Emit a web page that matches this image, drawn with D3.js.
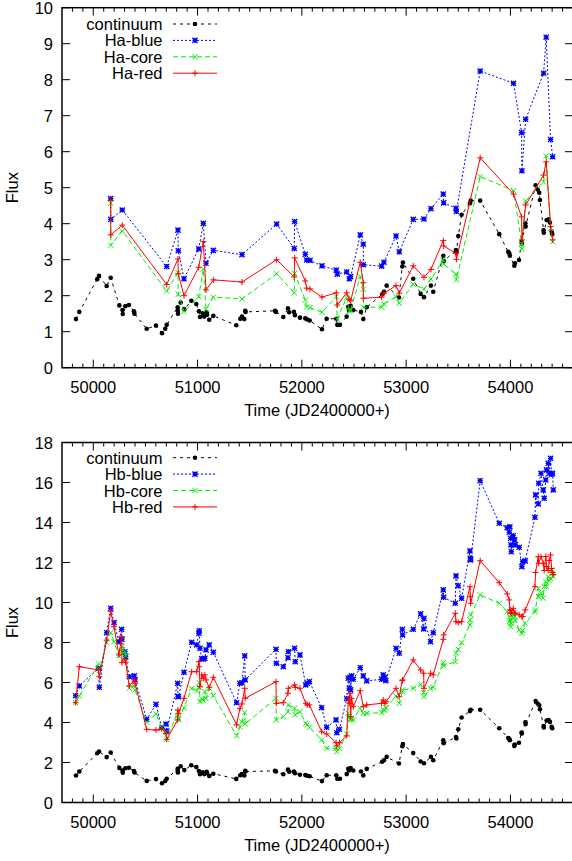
<!DOCTYPE html>
<html><head><meta charset="utf-8">
<script src="https://cdnjs.cloudflare.com/ajax/libs/d3/7.8.5/d3.min.js"></script>
<style>
html,body{margin:0;padding:0;background:#fff;}
svg text{font-family:"Liberation Sans",Arial,Helvetica,sans-serif;}
</style></head>
<body>
<svg id="chart" width="572" height="861"></svg>
<script>
// ---------- DATA ----------
const xTicks = [50000, 51000, 52000, 53000, 54000];
const haYTicks = [0,1,2,3,4,5,6,7,8,9,10];
const hbYTicks = [0,2,4,6,8,10,12,14,16,18];
const haNames = ["continuum","Ha-blue","Ha-core","Ha-red"];
const hbNames = ["continuum","Hb-blue","Hb-core","Hb-red"];

const contJD = [49834,49866,50038,50055,50128,50167,50250,50280,50283,50307,50342,50390,50395,50512,50601,50659,50690,50704,50809,50810,50812,50838,50873,50940,50988,51013,51023,51049,51064,51087,51090,51112,51151,51371,51410,51426,51448,51457,51460,51742,51752,51822,51867,51879,51924,51934,51982,52033,52052,52075,52193,52238,52330,52340,52365,52430,52445,52452,52468,52493,52567,52589,52622,52771,52787,52813,52931,52963,52969,53068,53139,53171,53238,53260,53356,53360,53478,53482,53500,53532,53612,53619,53710,53893,53979,53989,53995,54037,54043,54082,54107,54110,54143,54146,54242,54261,54276,54283,54318,54320,54347,54366,54379,54395,54401];
const contFlux = [1.35,1.55,2.46,2.55,2.27,2.50,1.73,1.60,1.49,1.71,1.74,1.57,1.50,1.08,1.17,0.96,1.08,1.19,1.68,1.58,1.50,1.81,1.62,1.86,1.77,1.57,1.41,1.51,1.42,1.54,1.47,1.33,1.44,1.18,1.36,1.42,1.35,1.58,1.55,1.58,1.55,1.41,1.65,1.54,1.55,1.46,1.39,1.37,1.34,1.31,1.07,1.36,1.36,1.19,1.19,1.42,1.69,1.60,1.72,1.60,1.55,1.35,1.68,2.04,2.11,2.28,1.95,2.81,2.92,2.47,2.05,1.96,2.28,2.11,3.11,2.96,3.27,3.20,3.66,4.25,4.57,4.64,4.64,3.71,3.22,3.18,3.11,2.83,2.90,2.99,3.50,3.45,4.01,3.92,5.07,4.95,4.86,4.66,3.82,3.75,4.10,4.12,4.03,3.78,3.71];

const haJD   = [50167,50168,50278,50704,50812,50815,50870,51011,51055,51081,51151,51426,51758,51927,51931,52033,52046,52078,52193,52330,52340,52430,52455,52468,52560,52589,52590,52765,52787,52903,52934,53068,53171,53238,53356,53360,53478,53482,53710,54030,54107,54110,54146,54318,54343,54385,54405];
const haBlue = [4.70,4.12,4.38,2.81,3.82,3.25,2.47,3.30,4.01,2.90,3.26,3.14,3.99,3.31,4.06,3.15,2.99,2.98,2.83,2.71,2.60,2.66,2.47,2.53,3.69,3.43,2.86,2.82,2.93,3.66,3.22,4.12,4.13,4.42,4.82,4.58,4.43,4.34,8.24,7.90,6.53,5.47,6.90,8.18,9.18,6.34,5.86];
const haCore = [4.57,3.40,3.80,2.13,2.64,2.04,1.56,1.97,2.74,1.62,1.96,1.91,2.61,2.08,2.62,1.88,1.69,1.67,1.54,1.97,1.35,1.95,1.58,1.60,2.53,2.18,1.68,1.68,1.77,1.97,1.79,2.32,2.18,2.46,2.99,2.88,2.60,2.44,5.31,4.92,3.45,3.30,4.63,5.16,5.88,3.87,3.50];
const haRed  = [4.65,3.69,3.96,2.31,3.02,2.61,2.00,2.79,3.50,2.16,2.44,2.38,3.00,2.52,3.05,2.41,2.21,2.19,1.96,2.08,1.74,2.08,1.90,1.86,2.93,2.36,1.93,1.96,2.07,2.28,2.07,2.83,2.51,2.73,3.53,3.38,3.18,3.01,5.83,4.82,4.19,3.55,4.52,5.35,5.72,3.92,3.55];

const hbJD   = [49831,49866,50050,50058,50128,50167,50199,50246,50272,50275,50304,50311,50345,50393,50400,50512,50601,50656,50697,50704,50809,50812,50818,50870,50943,50991,51013,51016,51023,51040,51055,51070,51081,51112,51151,51374,51406,51426,51452,51457,51752,51755,51822,51867,51870,51930,51937,51982,52037,52052,52072,52190,52238,52328,52335,52360,52430,52445,52455,52461,52468,52477,52493,52560,52589,52622,52765,52780,52796,52806,52903,52934,52963,52966,53068,53139,53168,53171,53234,53260,53356,53360,53471,53478,53500,53532,53612,53615,53619,53710,53893,53969,53989,53995,54002,54005,54008,54027,54040,54046,54084,54110,54117,54142,54235,54241,54267,54271,54293,54314,54324,54339,54346,54362,54372,54385,54395,54404,54411];
const hbBlue = [5.34,5.83,6.71,5.76,8.49,9.71,9.00,8.04,8.66,8.16,7.54,7.29,6.29,6.33,6.13,4.16,4.91,3.74,3.92,3.57,5.96,5.29,5.30,6.51,8.01,7.88,8.46,8.59,7.71,7.18,7.18,7.21,7.63,7.88,7.51,4.99,5.96,5.99,7.33,6.13,7.66,6.96,6.79,7.24,7.54,7.71,7.04,7.38,5.88,5.96,6.05,4.74,3.76,4.13,3.49,3.66,5.20,6.21,5.71,6.26,5.63,6.33,6.16,6.74,6.33,6.08,6.16,6.38,6.26,6.09,7.71,7.46,8.66,8.38,8.66,9.43,8.68,9.21,8.04,8.49,10.63,10.26,9.96,11.33,10.84,10.21,12.58,12.21,12.13,16.09,13.96,13.74,13.51,13.79,13.21,12.88,12.54,13.34,13.13,12.88,12.76,11.79,12.04,12.08,14.26,15.38,14.93,15.96,16.46,15.63,15.21,16.13,16.63,16.96,16.46,17.21,16.40,16.46,15.63];
const hbCore = [4.99,5.33,6.93,6.60,7.99,8.49,8.04,7.33,7.79,7.42,7.54,7.33,5.71,5.83,5.63,4.01,4.43,3.74,3.50,3.16,4.51,4.21,4.13,4.74,5.71,5.58,5.76,5.99,5.04,5.18,5.10,5.55,5.20,5.71,5.34,3.34,3.79,4.04,4.49,3.93,5.21,4.13,4.29,4.54,4.88,4.71,4.38,4.54,3.96,3.88,3.76,3.13,2.71,2.71,2.54,2.71,3.43,4.46,4.29,4.16,4.13,4.20,4.13,4.71,4.46,4.46,4.49,4.66,4.60,4.74,5.33,4.96,5.54,5.63,5.71,5.91,5.50,5.29,5.71,5.76,6.99,6.83,7.04,7.46,7.66,7.99,8.88,9.13,9.38,10.38,9.96,9.54,9.04,9.29,8.79,8.96,9.10,9.38,9.29,9.10,8.63,8.46,8.60,8.96,9.54,9.63,10.71,10.29,10.46,10.21,10.80,11.04,10.79,11.29,11.09,11.21,11.63,11.46,11.29];
const hbRed  = [4.99,6.79,6.63,6.29,8.12,9.54,8.79,7.38,8.29,6.99,7.13,7.01,5.83,6.13,5.96,3.66,3.62,3.70,3.45,3.16,4.13,4.63,4.46,5.21,6.54,6.54,7.04,6.79,5.79,6.38,6.21,6.38,6.13,5.74,6.26,3.88,4.71,4.93,5.71,5.21,6.04,4.96,4.99,5.46,5.71,5.88,5.76,5.71,4.96,4.88,4.88,3.54,3.43,2.99,2.83,2.99,3.33,5.13,4.96,5.46,4.29,5.21,4.79,5.59,4.79,4.88,4.96,5.13,4.96,5.04,5.71,5.29,6.09,6.13,7.13,6.63,6.46,5.71,6.46,6.38,8.16,8.38,9.46,9.04,8.99,9.04,10.79,10.29,9.96,12.09,10.99,10.43,10.13,9.63,9.49,9.60,9.46,9.71,9.46,9.46,9.38,9.29,9.30,9.63,10.79,11.50,12.29,11.96,12.29,11.96,11.60,12.30,11.80,11.60,12.10,12.38,11.70,11.50,11.40];

// ---------- LAYOUT ----------
const svg = d3.select("#chart");
const left = 62, right = 573;
const x = d3.scaleLinear().domain([49700, 54600]).range([left, right]);
const FONT = 16.5;

const styles = [
  {color:"#000000", dash:"3,4", marker:"circle"},
  {color:"#0000ff", dash:"2,2", marker:"star"},
  {color:"#00ee00", dash:"5,3", marker:"x"},
  {color:"#ff0000", dash:null, marker:"plus"}
];

function marker(g, type, cx, cy, color){
  if(type==="circle"){
    g.append("circle").attr("cx",cx).attr("cy",cy).attr("r",2.3).attr("fill",color);
    return;
  }
  const s = type==="plus"?3:2.6;
  let d = "";
  if(type==="plus"||type==="star") d += `M${cx-s},${cy}H${cx+s}M${cx},${cy-s}V${cy+s}`;
  if(type==="x"||type==="star") d += `M${cx-s},${cy-s}L${cx+s},${cy+s}M${cx-s},${cy+s}L${cx+s},${cy-s}`;
  g.append("path").attr("d",d).attr("stroke",color).attr("stroke-width",type==="star"?1.3:1).attr("fill","none");
}

function panel(top, bottom, yMax, yTicks, names, series, legendY){
  const y = d3.scaleLinear().domain([0,yMax]).range([bottom, top]);
  const g = svg.append("g");

  // ticks (inside, mirrored)
  const minor = d3.range(49800, 54601, 100).filter(v => v % 1000 !== 0);
  const tk = g.append("g").attr("stroke","#000").attr("stroke-width",1);
  minor.forEach(v=>{
    tk.append("line").attr("x1",x(v)).attr("x2",x(v)).attr("y1",bottom).attr("y2",bottom-4);
    tk.append("line").attr("x1",x(v)).attr("x2",x(v)).attr("y1",top).attr("y2",top+4);
  });
  xTicks.forEach(v=>{
    tk.append("line").attr("x1",x(v)).attr("x2",x(v)).attr("y1",bottom).attr("y2",bottom-8);
    tk.append("line").attr("x1",x(v)).attr("x2",x(v)).attr("y1",top).attr("y2",top+8);
  });
  yTicks.forEach(v=>{
    tk.append("line").attr("x1",left).attr("x2",left+8).attr("y1",y(v)).attr("y2",y(v));
    tk.append("line").attr("x1",right).attr("x2",right-8).attr("y1",y(v)).attr("y2",y(v));
  });

  // tick labels
  const lab = g.append("g").attr("font-size",FONT).attr("fill","#000");
  xTicks.forEach(v=>{
    lab.append("text").attr("x",x(v)).attr("y",bottom+25).attr("text-anchor","middle").text(v);
  });
  yTicks.forEach(v=>{
    lab.append("text").attr("x",53).attr("y",y(v)+6).attr("text-anchor","end").text(v);
  });
  lab.append("text").attr("x",317).attr("y",bottom+48).attr("text-anchor","middle").text("Time (JD2400000+)");
  lab.append("text").attr("transform",`translate(18,${(top+bottom)/2}) rotate(-90)`).attr("text-anchor","middle").text("Flux");

  // series
  const clip = "clip"+Math.round(top);
  svg.append("clipPath").attr("id",clip).append("rect").attr("x",left).attr("y",top).attr("width",right-left).attr("height",bottom-top);
  const plot = g.append("g").attr("clip-path",`url(#${clip})`);
  series.forEach((s,i)=>{
    const st = styles[i];
    const pts = s.jd.map((d,k)=>[d, s.v[k]]);
    const line = d3.line().x(d=>x(d[0])).y(d=>y(d[1]));
    plot.append("path").attr("d",line(pts)).attr("fill","none").attr("stroke",st.color)
      .attr("stroke-width",1).attr("stroke-dasharray",st.dash);
    const mg = plot.append("g");
    pts.forEach(p=>marker(mg, st.marker, x(p[0]), y(p[1]), st.color));
  });

  // legend
  const lg = g.append("g");
  names.forEach((n,i)=>{
    const st = styles[i];
    const ly = legendY + i*16.4;
    lg.append("text").attr("x",162.5).attr("y",ly+6).attr("text-anchor","end").attr("font-size",FONT).text(n);
    lg.append("line").attr("x1",173).attr("x2",217).attr("y1",ly).attr("y2",ly)
      .attr("stroke",st.color).attr("stroke-width",1).attr("stroke-dasharray",st.dash);
    marker(lg, st.marker, 195, ly, st.color);
  });

  // border
  g.append("rect").attr("x",left).attr("y",top).attr("width",right-left).attr("height",bottom-top)
    .attr("fill","none").attr("stroke","#000").attr("stroke-width",1.5);
}

panel(7.7, 367.7, 10, haYTicks, haNames, [
  {jd:contJD, v:contFlux},{jd:haJD, v:haBlue},{jd:haJD, v:haCore},{jd:haJD, v:haRed}], 24);
panel(442.5, 802.5, 18, hbYTicks, hbNames, [
  {jd:contJD, v:contFlux},{jd:hbJD, v:hbBlue},{jd:hbJD, v:hbCore},{jd:hbJD, v:hbRed}], 457.7);
</script>
</body></html>
